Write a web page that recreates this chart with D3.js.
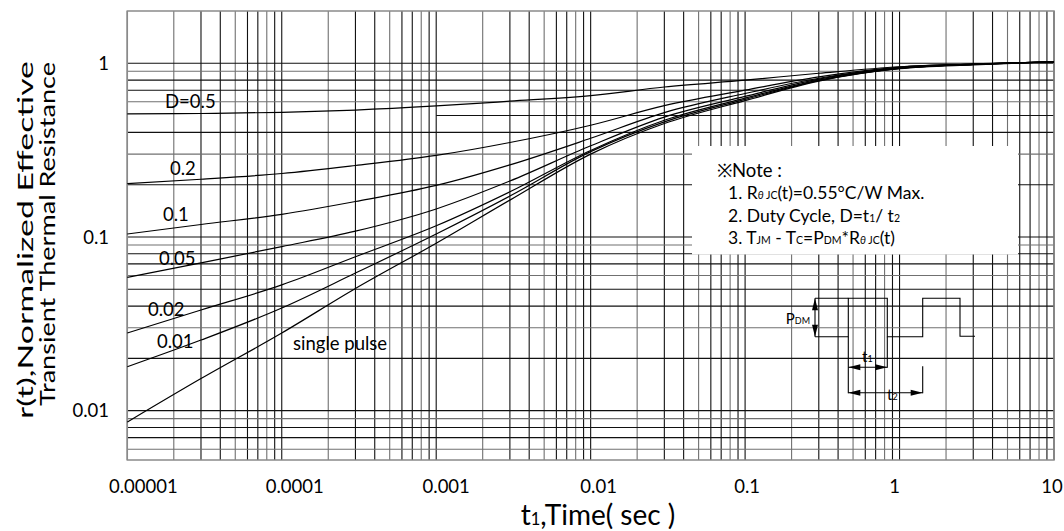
<!DOCTYPE html>
<html>
<head>
<meta charset="utf-8">
<script src="https://cdn.jsdelivr.net/npm/d3@7"></script>
<style>
body { margin: 0; background: #fff; }
svg { display: block; font-family: Lato, "Open Sans", sans-serif; }
</style>
</head>
<body>
<script>
// time points (sec) where curves were read
var times = [0.00001, 0.00003, 0.0001, 0.0003, 0.001, 0.003, 0.01, 0.03, 0.1, 0.3, 1, 3, 10];

var rD50 = [0.511, 0.514, 0.522, 0.538, 0.568, 0.605, 0.652, 0.73, 0.80, 0.876, 0.955, 0.99, 1.02];
var rD20 = [0.203, 0.215, 0.232, 0.258, 0.295, 0.35, 0.44, 0.57, 0.70, 0.835, 0.95, 0.99, 1.02];
var rD10 = [0.104, 0.118, 0.135, 0.16, 0.198, 0.26, 0.37, 0.52, 0.67, 0.82, 0.945, 0.99, 1.02];
var rD05 = [0.0585, 0.071, 0.088, 0.108, 0.145, 0.21, 0.335, 0.49, 0.645, 0.81, 0.94, 0.985, 1.02];
var rD02 = [0.028, 0.038, 0.053, 0.077, 0.116, 0.182, 0.315, 0.47, 0.63, 0.80, 0.935, 0.985, 1.02];
var rD01 = [0.0179, 0.0255, 0.039, 0.062, 0.104, 0.172, 0.31, 0.46, 0.62, 0.795, 0.935, 0.985, 1.02];
var rSingle = [0.0086, 0.0153, 0.028, 0.0505, 0.092, 0.163, 0.30, 0.45, 0.61, 0.79, 0.93, 0.98, 1.02];

var curveNames = ['D=0.5', '0.2', '0.1', '0.05', '0.02', '0.01', 'single pulse'];
var curveValues = [rD50, rD20, rD10, rD05, rD02, rD01, rSingle];

var xTicks = [0.00001, 0.0001, 0.001, 0.01, 0.1, 1, 10];
var xTickLabels = ['0.00001', '0.0001', '0.001', '0.01', '0.1', '1', '10'];
var yTicks = [1, 0.1, 0.01];
var yTickLabels = ['1', '0.1', '0.01'];
var yGridValues = [0.006, 0.007, 0.008, 0.009, 0.01,
	0.02, 0.03, 0.04, 0.05, 0.06, 0.07, 0.08, 0.09, 0.1,
	0.2, 0.3, 0.4, 0.5, 0.6, 0.7, 0.8, 0.9, 1];

var width = 1064;
var height = 531;
var plotLeft = 127.3, plotRight = 1054, plotTop = 11, plotBottom = 460;

var svg = d3.select('body')
	.append('svg')
	.attr('width', width)
	.attr('height', height);

var x = d3.scaleLog()
	.domain([0.00001, 10])
	.range([plotLeft, plotRight]);

var y = d3.scaleLog()
	.domain([0.0052, 2])
	.range([plotBottom, plotTop]);

// vertical grid: 1..9 of every decade
var xGridValues = [];
for (var k = -5; k < 1; k++) {
	for (var m = 1; m < 10; m++) {
		xGridValues.push(m * Math.pow(10, k));
	}
}
xGridValues.push(10);

var grid = svg.append('g')
	.attr('class', 'grid')
	.attr('stroke-width', 1.1);

grid.selectAll('line.v')
	.data(xGridValues)
	.enter()
	.append('line')
	.attr('class', 'v')
	.attr('x1', function(d) { return x(d); })
	.attr('x2', function(d) { return x(d); })
	.attr('y1', plotTop)
	.attr('y2', plotBottom)
	.attr('stroke', function(d, i) { return i % 3 == 1 ? '#707070' : '#111'; });

grid.selectAll('line.h')
	.data(yGridValues)
	.enter()
	.append('line')
	.attr('class', 'h')
	// the 0.5 line only shows right of 1ms in the original
	.attr('x1', function(d) { return d == 0.5 ? x(0.001) : plotLeft; })
	.attr('x2', plotRight)
	.attr('y1', function(d) { return y(d); })
	.attr('y2', function(d) { return y(d); })
	.attr('stroke', function(d, i) { return i % 3 == 0 ? '#707070' : '#111'; });

svg.append('rect')
	.attr('x', plotLeft)
	.attr('y', plotTop)
	.attr('width', plotRight - plotLeft)
	.attr('height', plotBottom - plotTop)
	.attr('fill', 'none')
	.attr('stroke', '#8a8a8a')
	.attr('stroke-width', 1.5);

// curves
var line = d3.line()
	.x(function(d) { return x(d[0]); })
	.y(function(d) { return y(d[1]); })
	.curve(d3.curveMonotoneX);

svg.append('g')
	.attr('class', 'curves')
	.selectAll('path')
	.data(curveValues)
	.enter()
	.append('path')
	.attr('d', function(vals) {
		return line(times.map(function(t, i) { return [t, vals[i]]; }));
	})
	.attr('fill', 'none')
	.attr('stroke', '#000')
	.attr('stroke-width', 1.2);

// curve labels
var labelPos = [[165, 108], [170, 175], [163, 220.5], [159, 265], [148, 316], [157, 347.5], [293, 350]];
svg.append('g')
	.attr('class', 'curve-labels')
	.selectAll('text')
	.data(curveNames)
	.enter()
	.append('text')
	.attr('x', function(d, i) { return labelPos[i][0]; })
	.attr('y', function(d, i) { return labelPos[i][1]; })
	.attr('font-size', 18.5)
	.attr('fill', '#000')
	.text(function(d) { return d; });

// axis tick labels
var xLabelShift = [16, 13, 10, 8, 2, -5, -2];
svg.append('g')
	.attr('class', 'x-labels')
	.selectAll('text')
	.data(xTicks)
	.enter()
	.append('text')
	.attr('x', function(d, i) { return x(d) + xLabelShift[i]; })
	.attr('y', 492.5)
	.attr('text-anchor', 'middle')
	.attr('font-size', 18.5)
	.text(function(d, i) { return xTickLabels[i]; });

svg.append('g')
	.attr('class', 'y-labels')
	.selectAll('text')
	.data(yTicks)
	.enter()
	.append('text')
	.attr('x', 109)
	.attr('y', function(d) { return y(d); })
	.attr('dy', '0.36em')
	.attr('text-anchor', 'end')
	.attr('font-size', 18.5)
	.text(function(d, i) { return yTickLabels[i]; });

// axis titles
var xTitle = svg.append('text')
	.attr('x', 598)
	.attr('y', 524.5)
	.attr('text-anchor', 'middle')
	.attr('font-size', 28);
xTitle.append('tspan').text('t');
xTitle.append('tspan').attr('font-size', 16.5).text('1');
xTitle.append('tspan').text(',Time( sec )');

svg.append('text')
	.attr('transform', 'translate(33,240) rotate(-90)')
	.attr('text-anchor', 'middle')
	.attr('font-size', 22)
	.attr('textLength', 358)
	.attr('lengthAdjust', 'spacingAndGlyphs')
	.text('r(t),Normalized Effective');

svg.append('text')
	.attr('transform', 'translate(55,234) rotate(-90)')
	.attr('text-anchor', 'middle')
	.attr('font-size', 22)
	.attr('textLength', 344)
	.attr('lengthAdjust', 'spacingAndGlyphs')
	.text('Transient Thermal Resistance');

// note box
svg.append('rect')
	.attr('x', 692)
	.attr('y', 146)
	.attr('width', 326)
	.attr('height', 108.5)
	.attr('fill', '#fff');

var note = svg.append('g')
	.attr('class', 'note')
	.attr('font-size', 17.5);

note.append('text')
	.attr('x', 717)
	.attr('y', 177)
	.attr('font-size', 18.5)
	.text('\u203BNote :');

function addRun(t, parts) {
	parts.forEach(function(p) {
		var s = t.append('tspan').text(p[0]);
		if (p[1]) s.attr('font-size', 10.5);
		if (p[2]) s.attr('font-style', 'italic');
	});
}

addRun(note.append('text').attr('x', 728).attr('y', 199),
	[['1. R'], ['\u03B8 ', 1, 1], ['JC', 1], ['(t)=0.55\u00B0C/W Max.']]);
addRun(note.append('text').attr('x', 728).attr('y', 221.7),
	[['2. Duty Cycle, D=t'], ['1', 1], ['/ t'], ['2', 1]]);
addRun(note.append('text').attr('x', 728).attr('y', 244),
	[['3. T'], ['JM', 1], [' - T'], ['C', 1], ['=P'], ['DM', 1], ['*R'], ['\u03B8 ', 1, 1], ['JC', 1], ['(t)']]);

// pulse sketch
var px = 815, py = 298.3, lo = 38.4;
var sketch = svg.append('g')
	.attr('transform', 'translate(' + px + ',' + py + ')')
	.attr('fill', 'none')
	.attr('stroke', '#000')
	.attr('stroke-width', 1.1);

sketch.append('path')
	.attr('d', 'M0,' + lo + 'H33.3V0H72.3V' + lo + 'H107.7V0H145V' + (lo - 0.5) + 'H160');
sketch.append('path').attr('d', 'M0,0H33.3');
sketch.append('path').attr('d', 'M0,0V' + lo);
sketch.append('path').attr('d', 'M33.3,' + lo + 'V95M72.3,' + lo + 'V69.5M107.7,68V95');
sketch.append('path').attr('d', 'M33.3,69H72.3M33.3,94.4H107.7');

function arrowHead(xa, ya, dir) {
	// dir: 'l','r','u','d' pointing direction, tip at (xa,ya)
	var L = 12, W = 3;
	var pts;
	if (dir == 'l') pts = [[xa, ya], [xa + L, ya - W], [xa + L, ya + W]];
	if (dir == 'r') pts = [[xa, ya], [xa - L, ya - W], [xa - L, ya + W]];
	if (dir == 'u') pts = [[xa, ya], [xa - W, ya + L], [xa + W, ya + L]];
	if (dir == 'd') pts = [[xa, ya], [xa - W, ya - L], [xa + W, ya - L]];
	sketch.append('polygon')
		.attr('points', pts.map(function(p) { return p.join(','); }).join(' '))
		.attr('fill', '#000')
		.attr('stroke', 'none');
}
arrowHead(0, 0, 'u');
arrowHead(0, lo, 'd');
arrowHead(33.3, 69, 'l');
arrowHead(72.3, 69, 'r');
arrowHead(33.3, 94.4, 'l');
arrowHead(107.7, 94.4, 'r');

var sk = svg.append('g').attr('font-size', 15);
var pdm = sk.append('text').attr('x', 810).attr('y', 323.5).attr('text-anchor', 'end');
pdm.append('tspan').text('P');
pdm.append('tspan').attr('font-size', 9).text('DM');
var t1 = sk.append('text').attr('x', 862).attr('y', 362);
t1.append('tspan').text('t');
t1.append('tspan').attr('font-size', 9).text('1');
var t2 = sk.append('text').attr('x', 887).attr('y', 399.5);
t2.append('tspan').text('t');
t2.append('tspan').attr('font-size', 9).text('2');
</script>
</body>
</html>
